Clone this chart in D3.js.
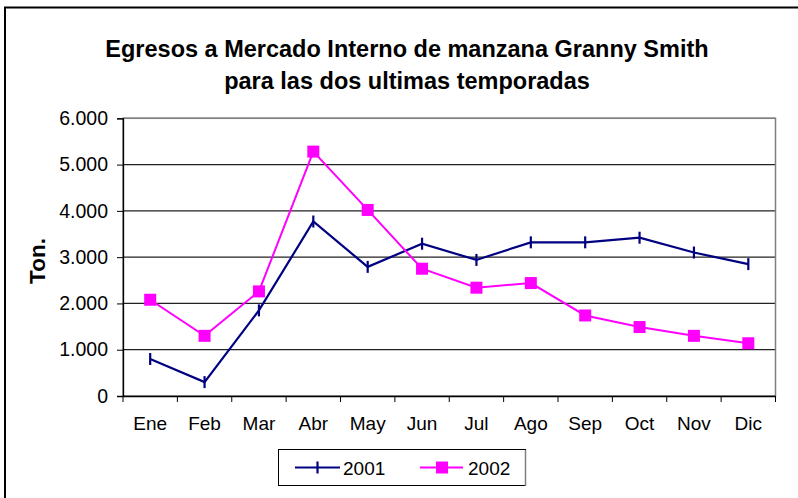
<!DOCTYPE html>
<html><head><meta charset="utf-8">
<script src="https://cdn.jsdelivr.net/npm/d3@7"></script>
<style>body{margin:0;background:#fff}svg{display:block;font-family:Arial,"Liberation Sans",sans-serif}</style>
</head><body><svg id="c" width="798" height="498"></svg>
<script>
const months = ["Ene","Feb","Mar","Abr","May","Jun","Jul","Ago","Sep","Oct","Nov","Dic"];
const s2001 = [800,300,1850,3770,2790,3290,2940,3320,3320,3420,3100,2850];
const s2002 = [2080,1300,2260,5280,4020,2750,2340,2440,1740,1490,1300,1140];
const yTicks = [0,1000,2000,3000,4000,5000,6000];
const seriesNames = ["2001","2002"];
const colors = ["#000080","#FF00FF"];

const FONT = "Arial,'Liberation Sans',sans-serif";
const svg = d3.select("#c");
const m = {l:123, r:775.5, t:118.3, b:396};
const x = d3.scaleBand().domain(months).range([m.l, m.r]);
const y = d3.scaleLinear().domain([0,6000]).range([m.b, m.t]);
const fmt = v => d3.format(",")(v).replace(/,/g,".");

// outer chart border
svg.append("rect").attr("x",5).attr("y",7.5).attr("width",900).attr("height",600)
  .attr("fill","none").attr("stroke","#000").attr("stroke-width",2);

// title
const title = svg.append("text").attr("text-anchor","middle").attr("font-weight","bold").attr("font-size",23.5).attr("fill","#000");
title.append("tspan").attr("x",407).attr("y",57).text("Egresos a Mercado Interno de manzana Granny Smith");
title.append("tspan").attr("x",407).attr("y",89).text("para las dos ultimas temporadas");

// gridlines
svg.append("g").selectAll("line").data(yTicks.filter(d=>d>0)).join("line")
  .attr("x1",m.l).attr("x2",m.r).attr("y1",d=>y(d)).attr("y2",d=>y(d))
  .attr("stroke","#222").attr("stroke-width",1.3);
// plot border (gray)
svg.append("rect").attr("x",m.l).attr("y",m.t).attr("width",m.r-m.l).attr("height",m.b-m.t)
  .attr("fill","none").attr("stroke","#808080").attr("stroke-width",1.5);

// y axis
const ya = svg.append("g").attr("transform",`translate(${m.l},0)`)
  .call(d3.axisLeft(y).tickValues(yTicks).tickFormat(fmt).tickSize(6).tickPadding(9));
ya.select(".domain").attr("stroke","#000").attr("stroke-width",1.3);
ya.selectAll("line").attr("stroke","#000");
ya.selectAll("text").attr("font-size",19.5).attr("fill","#000").attr("font-family",FONT);

// x axis
const xa = svg.append("g").attr("transform",`translate(0,${m.b})`)
  .call(d3.axisBottom(x).tickSize(0).tickPadding(21));
xa.select(".domain").attr("stroke","#000").attr("stroke-width",1.3);
xa.selectAll("text").attr("font-size",19).attr("fill","#000").attr("font-family",FONT);
// band boundary ticks
svg.append("g").selectAll("line").data(months.concat(["_end"])).join("line")
  .attr("x1",(d,i)=>m.l+i*x.bandwidth()).attr("x2",(d,i)=>m.l+i*x.bandwidth())
  .attr("y1",m.b).attr("y2",m.b+6).attr("stroke","#000");

// y label
svg.append("text").attr("transform","translate(45,261) rotate(-90)").attr("text-anchor","middle")
  .attr("font-weight","bold").attr("font-size",22.5).text("Ton.");

const cx = d => x(d)+x.bandwidth()/2;
const line = d3.line().x((d,i)=>cx(months[i])).y(d=>y(d));

// series 2001
svg.append("path").datum(s2001).attr("d",line).attr("fill","none").attr("stroke",colors[0]).attr("stroke-width",2.2);
svg.append("g").selectAll("line").data(s2001).join("line")
  .attr("x1",(d,i)=>cx(months[i])).attr("x2",(d,i)=>cx(months[i]))
  .attr("y1",d=>y(d)-6).attr("y2",d=>y(d)+6).attr("stroke",colors[0]).attr("stroke-width",2.2);

// series 2002
svg.append("path").datum(s2002).attr("d",line).attr("fill","none").attr("stroke",colors[1]).attr("stroke-width",2);
svg.append("g").selectAll("rect").data(s2002).join("rect")
  .attr("x",(d,i)=>cx(months[i])-6).attr("y",d=>y(d)-6).attr("width",12).attr("height",12)
  .attr("fill",colors[1]);

// legend
const lg = svg.append("g");
lg.append("rect").attr("x",278.5).attr("y",449.5).attr("width",247).attr("height",36)
  .attr("fill","#fff").attr("stroke","#000").attr("stroke-width",1);
lg.append("line").attr("x1",525.5).attr("x2",525.5).attr("y1",450).attr("y2",486).attr("stroke","#808080").attr("stroke-width",1.5);
// 2001 entry
lg.append("line").attr("x1",295).attr("x2",340).attr("y1",467.5).attr("y2",467.5).attr("stroke",colors[0]).attr("stroke-width",2);
lg.append("line").attr("x1",317.5).attr("x2",317.5).attr("y1",461.5).attr("y2",473.5).attr("stroke",colors[0]).attr("stroke-width",2.2);
lg.append("text").attr("x",343).attr("y",474.5).attr("font-size",19).text(seriesNames[0]);
// 2002 entry
lg.append("line").attr("x1",420).attr("x2",463).attr("y1",467.5).attr("y2",467.5).attr("stroke",colors[1]).attr("stroke-width",2);
lg.append("rect").attr("x",436).attr("y",461.5).attr("width",12).attr("height",12).attr("fill",colors[1]);
lg.append("text").attr("x",468).attr("y",474.5).attr("font-size",19).text(seriesNames[1]);
</script></body></html>
